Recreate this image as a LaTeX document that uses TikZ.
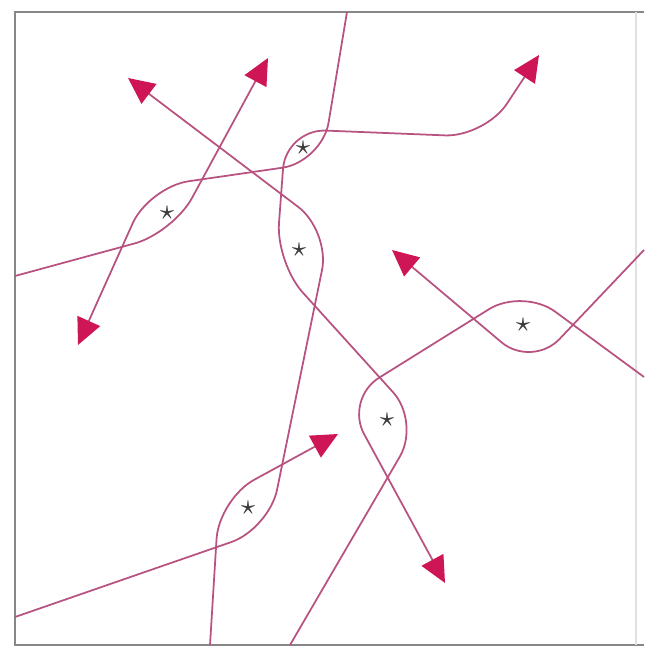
\documentclass[tikz,border=0pt]{standalone}
\usetikzlibrary{arrows.meta}

\definecolor{linecol}{RGB}{184,82,128}
\definecolor{tipcol}{RGB}{206,22,86}
\definecolor{starcol}{RGB}{60,60,60}
\definecolor{framecol}{RGB}{135,135,135}

\begin{document}
\begin{tikzpicture}[x=0.1mm,y=-0.1mm,
    line/.style={draw=linecol,line width=0.5pt,rounded corners=4mm},
    arr/.style={-{Triangle[length=7.5pt,width=7pt,color=tipcol]}},
    starnode/.style={text=starcol,inner sep=0pt,font=\footnotesize}]

    % 画布范围
    \useasboundingbox (0,0) rectangle (644,647);

    % 边框
    \draw[framecol,line width=0.8pt] (644,12) -- (15,12) -- (15,645) -- (644,645);
    \draw[black!12,line width=0.5pt] (636,12) -- (636,645);

    % 端点与拐点
    \coordinate (a0) at (15,276);   \coordinate (a1) at (173,233);  \coordinate (a2) at (268,58);
    \coordinate (b0) at (347,12);   \coordinate (b1) at (322,162);  \coordinate (b2) at (149,187);  \coordinate (b3) at (78,345);
    \coordinate (c0) at (290,645);  \coordinate (c1) at (420,422);  \coordinate (c2) at (276,263);
    \coordinate (c3) at (286,129);  \coordinate (c4) at (485,137);  \coordinate (c5) at (539,55);
    \coordinate (d0) at (15,617);   \coordinate (d1) at (269,529);  \coordinate (d2) at (330,231);  \coordinate (d3) at (128,78);
    \coordinate (e0) at (210,645);  \coordinate (e1) at (219,499);  \coordinate (e2) at (338,434);
    \coordinate (f0) at (644,250);  \coordinate (f1) at (532,368);  \coordinate (f2) at (392,250);
    \coordinate (g0) at (644,377);  \coordinate (g1) at (523,288);  \coordinate (g2) at (345,399);  \coordinate (g3) at (445,583);

    % 各条路径
    \draw[line,arr] (a0) -- (a1) -- (a2);
    \draw[line,arr] (b0) -- (b1) -- (b2) -- (b3);
    \draw[line,arr] (c0) -- (c1) -- (c2) -- (c3) -- (c4) -- (c5);
    \draw[line,arr] (d0) -- (d1) -- (d2) -- (d3);
    \draw[line,arr] (e0) -- (e1) -- (e2);
    \draw[line,arr] (f0) -- (f1) -- (f2);
    \draw[line,arr] (g0) -- (g1) -- (g2) -- (g3);

    % 交叠区域的星号
    \node[starnode] (s1) at (167,213) {$\star$};
    \node[starnode] (s2) at (303,148) {$\star$};
    \node[starnode] (s3) at (299,250) {$\star$};
    \node[starnode] (s4) at (523,325) {$\star$};
    \node[starnode] (s5) at (387,420) {$\star$};
    \node[starnode] (s6) at (248,508) {$\star$};

\end{tikzpicture}
\end{document}
